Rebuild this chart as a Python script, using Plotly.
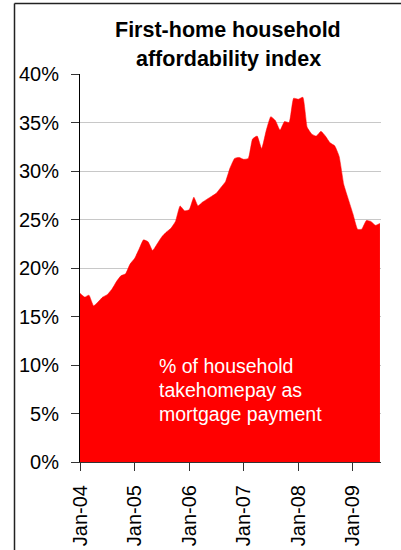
import pandas as pd
import plotly.graph_objects as go

# Monthly index values (% of household take-home pay), Jan-04 .. Jul-09
months = pd.date_range("2004-01-01", periods=67, freq="MS")
affordability = [
    17.4, 17.0, 17.2, 16.1, 16.5, 17.0, 17.25, 17.8, 18.6, 19.2, 19.4, 20.4,   # 2004
    21.0, 22.0, 22.9, 22.7, 21.8, 22.5, 23.2, 23.7, 24.1, 24.8, 26.4, 25.9,    # 2005
    26.0, 27.3, 26.4, 26.8, 27.1, 27.4, 27.7, 28.3, 28.9, 30.3, 31.3, 31.4,    # 2006
    31.2, 31.3, 33.3, 33.6, 32.3, 34.2, 35.6, 35.2, 34.2, 35.1, 35.0, 37.5,    # 2007
    37.4, 37.6, 34.5, 33.8, 33.6, 34.1, 33.6, 32.9, 32.6, 31.5, 28.6, 27.1,    # 2008
    25.6, 24.0, 24.0, 24.9, 24.8, 24.4, 24.6,                                  # 2009
]
tick_dates = ["2004-01-01", "2005-01-01", "2006-01-01", "2007-01-01", "2008-01-01", "2009-01-01"]
tick_text = ["Jan-04", "Jan-05", "Jan-06", "Jan-07", "Jan-08", "Jan-09"]
y_ticks = [0, 5, 10, 15, 20, 25, 30, 35, 40]
y_tick_text = [f"{v}%" for v in y_ticks]

title_lines = ["<b>First-home household</b>", "<b>affordability index</b>"]
note_lines = ["% of household", "takehomepay as", "mortgage payment"]

FONT = "Arial, Liberation Sans, sans-serif"

fig = go.Figure()
fig.add_trace(go.Scatter(
    x=months, y=affordability, mode="lines", fill="tozeroy",
    fillcolor="#FF0000", line=dict(color="#FF0000", width=0.5, shape="spline", smoothing=0.4),
    hoverinfo="skip", showlegend=False,
))

L, R, T, B = 80, 20, 74, 88
W, H = 401, 550
pw, ph = W - L - R, H - T - B

def px_x(p):
    return (p - L) / pw

def px_y(p):
    return (H - B - p) / ph

annotations = []
for line, py in zip(title_lines, [30, 59.5]):
    annotations.append(dict(text=line, x=px_x(228), y=px_y(py), xref="paper", yref="paper",
                            xanchor="center", yanchor="middle", showarrow=False,
                            font=dict(family=FONT, size=21.5, color="#000000")))
for line, py in zip(note_lines, [366, 389.8, 413.5]):
    annotations.append(dict(text=line, x=px_x(156.5), y=px_y(py), xref="paper", yref="paper",
                            xanchor="left", yanchor="middle", showarrow=False,
                            font=dict(family=FONT, size=19.5, color="#FFFFFF")))

shapes = [
    dict(type="line", xref="paper", yref="paper", x0=px_x(14.5), x1=px_x(14.5),
         y0=px_y(3.5), y1=px_y(600), line=dict(color="#222222", width=1.5)),
    dict(type="line", xref="paper", yref="paper", x0=px_x(14.5), x1=px_x(450),
         y0=px_y(3.5), y1=px_y(3.5), line=dict(color="#222222", width=1.5)),
]

fig.update_layout(
    width=W, height=H,
    margin=dict(l=L, r=R, t=T, b=B, autoexpand=False),
    paper_bgcolor="#FFFFFF", plot_bgcolor="#FFFFFF",
    annotations=annotations, shapes=shapes,
    font=dict(family=FONT, size=20, color="#000000"),
)
fig.update_xaxes(
    type="date", range=["2004-01-01", "2009-07-08"], automargin=False,
    tickvals=tick_dates, ticktext=tick_text, tickangle=-90,
    ticks="outside", ticklen=8, tickcolor="#333333", tickwidth=1,
    showline=True, linecolor="#333333", linewidth=1, showgrid=False, zeroline=False,
    ticklabelstandoff=6, tickfont=dict(family=FONT, size=20, color="#000000"),
)
fig.update_yaxes(
    range=[0, 40], tickvals=y_ticks, ticktext=y_tick_text, automargin=False,
    ticks="outside", ticklen=8, tickcolor="#333333", tickwidth=1,
    showline=True, linecolor="#000000", linewidth=1,
    showgrid=True, gridcolor="#C8C8C8", gridwidth=1, zeroline=False,
    ticklabelstandoff=8, tickfont=dict(family=FONT, size=20, color="#000000"),
)
fig.write_html(
    "out.html",
    config={"displayModeBar": False, "staticPlot": True},
    post_script="document.body.style.margin='0px';document.body.style.overflow='hidden';",
)
